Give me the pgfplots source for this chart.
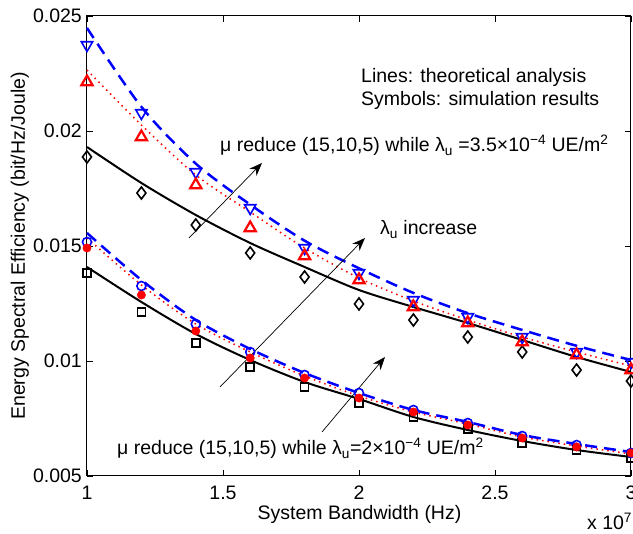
\documentclass[border=0pt]{standalone}
\usepackage{fontspec}
\setmainfont{Liberation Sans}
\usepackage{pgfplots}
\usepackage{pgfplotstable}
\pgfplotsset{compat=1.18}
\usetikzlibrary{arrows.meta}

\pgfplotstableread{
x   bl       rl       ul       bm       rm       um
1.0 0.019304 0.022652 0.02448  0.018870 0.022130 0.023739
1.2 0.017739 0.020261 0.02105  0.017304 0.019739 0.020783
1.4 0.016348 0.018087 0.01858  0.015913 0.017652 0.018217
1.6 0.015130 0.016478 0.01680  0.014696 0.015783 0.016652
1.8 0.014087 0.014913 0.01523  0.013652 0.014565 0.014913
2.0 0.013087 0.013609 0.01403  0.012478 0.013522 0.013826
2.2 0.012348 0.012609 0.01296  0.011783 0.012348 0.012652
2.4 0.011652 0.011783 0.01208  0.011043 0.011652 0.011913
2.6 0.010913 0.011043 0.01135  0.010391 0.010826 0.011043
2.8 0.010174 0.010391 0.01066  0.009609 0.010261 0.010391
3.0 0.009522 0.009783 0.01004  0.009130 0.009609 0.009957
}\groupA

\pgfplotstableread{
x   bl       rl       ul       bm       rm       um
1.0 0.014087 0.015348 0.015565 0.013826 0.014913 0.015174
1.2 0.012565 0.013304 0.013522 0.012130 0.012870 0.013261
1.4 0.011174 0.011609 0.011783 0.010783 0.011304 0.011609
1.6 0.010043 0.010391 0.010522 0.009739 0.010130 0.010391
1.8 0.009087 0.009348 0.009478 0.008870 0.009261 0.009391
2.0 0.008348 0.008478 0.008609 0.008174 0.008391 0.008609
2.2 0.007565 0.007783 0.007870 0.007565 0.007783 0.007870
2.4 0.007000 0.007261 0.007348 0.007043 0.007217 0.007304
2.6 0.006522 0.006696 0.006783 0.006435 0.006652 0.006739
2.8 0.006130 0.006304 0.006391 0.006130 0.006261 0.006348
3.0 0.005826 0.005957 0.006043 0.005783 0.006000 0.006000
}\groupB

\begin{document}
\fontsize{19.5}{23}\selectfont
\begin{tikzpicture}[font=\fontsize{19.5}{23}\selectfont]
\begin{axis}[
  at={(0,0)}, anchor=south west,
  scale only axis, width=544pt, height=460pt,
  xmin=1, xmax=3, ymin=0.005, ymax=0.025,
  clip=false,
  axis line style={line width=1pt},
  xtick={1,1.5,2,2.5,3}, xticklabels={1,1.5,2,2.5,3},
  ytick={0.005,0.01,0.015,0.02,0.025},
  yticklabels={0.005,0.01,0.015,0.02,0.025},
  scaled ticks=false,
  tick align=inside, xtick pos=both, ytick pos=both,
  xticklabel pos=lower, yticklabel pos=left,
  major tick length=6pt,
  tick style={line width=0.8pt, black},
  xticklabel style={inner sep=0pt, anchor=north, yshift=-10pt},
  yticklabel style={inner sep=0pt, anchor=east, xshift=-5pt},
]
% theoretical lines
\addplot[black, line width=2pt, smooth] table[x=x, y=bl] {\groupA};
\addplot[red, line width=1.5pt, smooth, dash pattern=on 1.5pt off 4pt] table[x=x, y=rl] {\groupA};
\addplot[blue, line width=2.5pt, smooth, dash pattern=on 12pt off 7pt] table[x=x, y=ul] {\groupA};
\addplot[black, line width=2pt, smooth] table[x=x, y=bl] {\groupB};
\addplot[red, line width=1.5pt, smooth, dash pattern=on 1.5pt off 4pt] table[x=x, y=rl] {\groupB};
\addplot[blue, line width=2.5pt, smooth, dash pattern=on 12pt off 7pt] table[x=x, y=ul] {\groupB};
% simulation markers
\addplot[only marks, blue, mark=triangle, mark size=6.5pt, line width=1.6pt, mark options={rotate=180}] table[x=x, y=um] {\groupA};
\addplot[only marks, black, mark=diamond, mark size=6pt, line width=1.6pt] table[x=x, y=bm] {\groupA};
\addplot[only marks, red, mark=triangle, mark size=6.5pt, line width=2.2pt] table[x=x, y=rm] {\groupA};
\addplot[only marks, blue, mark=o, mark size=4.5pt, line width=1.6pt] table[x=x, y=um] {\groupB};
\addplot[only marks, black, mark=square, mark size=4pt, line width=1.6pt] table[x=x, y=bm] {\groupB};
\addplot[only marks, red, mark=*, mark size=4.2pt, mark options={fill=red, draw=red}] table[x=x, y=rm] {\groupB};
% arrows
\draw[black, line width=0.7pt, -{Stealth[length=13pt,width=10pt]}] (axis cs:1.375,0.015348) -- (axis cs:1.6434,0.018609);
\draw[black, line width=0.7pt, -{Stealth[length=13pt,width=10pt]}] (axis cs:1.489,0.008870) -- (axis cs:2.022,0.015348);
\draw[black, line width=0.7pt, -{Stealth[length=13pt,width=10pt]}] (axis cs:1.864,0.006913) -- (axis cs:2.0956,0.010174);
% texts
\node[anchor=base west, inner sep=0pt] at (axis cs:2.0074,0.022130) {Lines: theoretical analysis};
\node[anchor=base west, inner sep=0pt] at (axis cs:2.0074,0.021130) {Symbols: simulation results};
\node[anchor=base west, inner sep=0pt] at (axis cs:1.489,0.019087) {μ reduce (15,10,5) while λ\textsubscript{u} =3.5×10\textsuperscript{−4} UE/m\textsuperscript{2}};
\node[anchor=base west, inner sep=0pt] at (axis cs:2.0772,0.015478) {λ\textsubscript{u} increase};
\node[anchor=base west, inner sep=0pt] at (axis cs:1.1103,0.005913) {μ reduce (15,10,5) while λ\textsubscript{u}=2×10\textsuperscript{−4} UE/m\textsuperscript{2}};
\node[anchor=base, inner sep=0pt] at (axis cs:2.0018,0.003130) {System Bandwidth (Hz)};
\node[anchor=base west, inner sep=0pt] at (axis cs:2.838,0.002652) {x 10\textsuperscript{7}};
\node[anchor=base, inner sep=0pt, rotate=90] at (axis cs:0.772,0.015) {Energy Spectral Efficiency (bit/Hz/Joule)};
\end{axis}
\pgfresetboundingbox
\path[use as bounding box] (-87pt,-58pt) rectangle (546pt,476pt);
\end{tikzpicture}
\end{document}
